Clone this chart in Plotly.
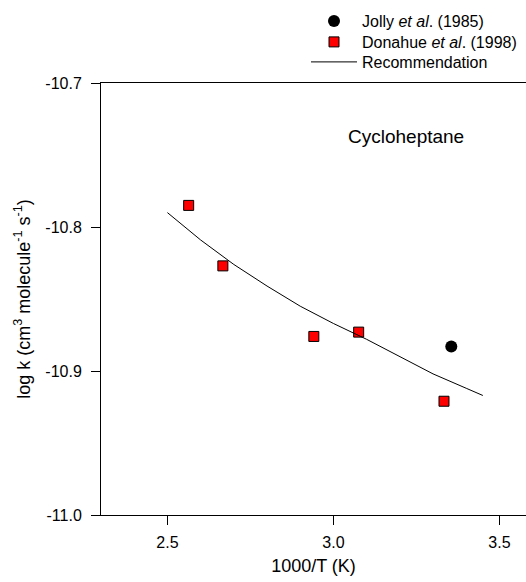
import plotly.graph_objects as go

# Data
jolly_x = [3.355]
jolly_y = [-10.883]

donahue_x = [2.564, 2.667, 2.941, 3.076, 3.333]
donahue_y = [-10.785, -10.827, -10.876, -10.873, -10.921]

rec_x = [2.5, 2.6, 2.7, 2.8, 2.9, 3.0, 3.1, 3.2, 3.3, 3.4, 3.45]
rec_y = [-10.790, -10.809, -10.826, -10.841, -10.855, -10.867, -10.878, -10.890, -10.902, -10.912, -10.917]

x_ticks = [2.5, 3.0, 3.5]
x_ticklabels = ["2.5", "3.0", "3.5"]
y_ticks = [-10.7, -10.8, -10.9, -11.0]
y_ticklabels = ["-10.7", "-10.8", "-10.9", "-11.0"]

FONT = "Arial, Liberation Sans, sans-serif"
W, H = 526, 582

fig = go.Figure()
fig.add_trace(go.Scatter(
    x=jolly_x, y=jolly_y, mode="markers",
    name="Jolly <i>et al</i>. (1985)", legend="legend",
    marker=dict(symbol="circle", size=12, color="black"),
))
fig.add_trace(go.Scatter(
    x=donahue_x, y=donahue_y, mode="markers",
    name="Donahue <i>et al</i>. (1998)", legend="legend2",
    marker=dict(symbol="square", size=10, color="#ff0000",
                line=dict(color="black", width=1)),
))
fig.add_trace(go.Scatter(
    x=rec_x, y=rec_y, mode="lines",
    name="Recommendation", legend="legend3",
    line=dict(color="black", width=1),
))

fig.add_annotation(
    x=3.22, y=-10.737, xref="x", yref="y",
    text="Cycloheptane", showarrow=False,
    font=dict(family=FONT, size=19, color="black"),
)

def leg(row_center_y):
    return dict(
        x=306 / W, y=1 - row_center_y / H, xref="container", yref="container",
        xanchor="left", yanchor="middle",
        bgcolor="rgba(0,0,0,0)", borderwidth=0,
        font=dict(family=FONT, size=16, color="black"),
        itemwidth=46,
    )

fig.update_layout(
    width=W, height=H,
    margin=dict(l=101, r=0, t=83, b=67, autoexpand=False),
    paper_bgcolor="white", plot_bgcolor="white",
    font=dict(family=FONT, size=16, color="black"),
    showlegend=True,
    legend=leg(21), legend2=leg(42), legend3=leg(62),
    xaxis=dict(
        range=[2.3, 3.58],
        tickvals=x_ticks, ticktext=x_ticklabels,
        ticks="outside", ticklen=9, tickwidth=1, tickcolor="black",
        showline=True, linecolor="black", linewidth=1, mirror=True,
        showgrid=False, zeroline=False,
        title=dict(text="1000/T (K)", font=dict(family=FONT, size=18), standoff=9),
        tickfont=dict(family=FONT, size=16),
        ticklabelstandoff=4,
    ),
    yaxis=dict(
        range=[-11.0, -10.7],
        tickvals=y_ticks, ticktext=y_ticklabels,
        ticks="outside", ticklen=9, tickwidth=1, tickcolor="black",
        showline=True, linecolor="black", linewidth=1, mirror=False,
        showgrid=False, zeroline=False,
        title=dict(text="log k (cm<sup>3</sup> molecule<sup>-1</sup> s<sup>-1</sup>)",
                   font=dict(family=FONT, size=18), standoff=10),
        tickfont=dict(family=FONT, size=16),
        ticklabelstandoff=6,
    ),
)

fig.write_html("out.html", config={"displayModeBar": False},
               post_script="document.body.style.margin='0px';")
